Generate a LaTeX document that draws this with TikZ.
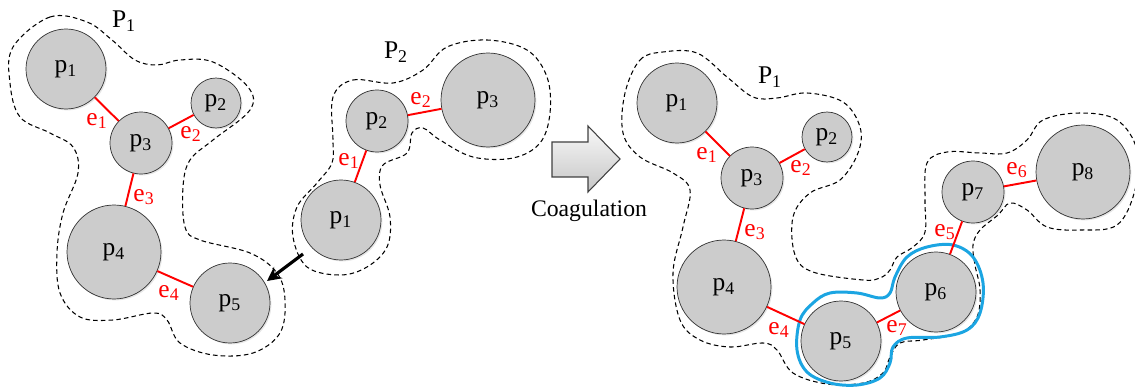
\documentclass[tikz,border=0pt]{standalone}
\usepackage{fontspec}
\setmainfont{Liberation Serif}
\usetikzlibrary{shadows,arrows.meta}
\definecolor{hilite}{RGB}{27,165,226}
\newcommand{\pfont}{\fontsize{14.5}{16}\selectfont}
\newcommand{\idx}[1]{\textsubscript{#1}}
\tikzset{
	part/.style={circle, draw=black!80, fill=gray!40, inner sep=0pt, font=\pfont,
		drop shadow={opacity=0.2, shadow xshift=0.8pt, shadow yshift=-0.8pt}},
	psmall/.style={part, minimum size=1.0cm},
	pmid/.style={part, minimum size=1.24cm},
	pbig/.style={part, minimum size=1.6cm},
	phuge/.style={part, minimum size=1.88cm},
	edge/.style={red, line width=1.1pt},
	elab/.style={red, font=\pfont, inner sep=0pt},
	glab/.style={font=\pfont, inner sep=0pt},
	outline/.style={black, line width=0.6pt, dash pattern=on 2.6pt off 1.8pt},
}
\begin{document}
\begin{tikzpicture}[x=0.02cm, y=-0.02cm]
	\useasboundingbox (0,0) rectangle (1135,388);
	\draw[outline] plot[smooth cycle, tension=0.6] coordinates {(13,47) (50,17) (87,22) (112,40) (135,60) (157,65) (180,60) (213,62) (248,87) (250,110) (213,140) (190,160) (183,187) (185,227) (200,240) (250,253) (277,273) (285,300) (280,333) (253,353) (213,355) (180,343) (167,320) (153,313) (113,320) (80,317) (60,293) (57,253) (63,213) (78,173) (73,147) (50,133) (20,117) (10,83)};
	\draw[outline] plot[smooth cycle, tension=0.6] coordinates {(333,97) (353,80) (393,83) (423,70) (447,47) (487,40) (527,50) (547,77) (550,113) (540,143) (513,158) (473,157) (440,140) (423,128) (412,133) (407,153) (383,165) (380,185) (390,217) (387,247) (367,267) (340,275) (307,267) (293,237) (297,207) (317,183) (332,163) (333,140)};
	\draw[outline] plot[smooth cycle, tension=0.6] coordinates {(625,93) (640,60) (663,52) (697,53) (727,77) (753,97) (777,98) (807,93) (843,102) (860,127) (858,153) (840,180) (810,193) (793,217) (795,255) (813,272) (863,280) (880,278) (890,270) (897,257) (913,247) (925,232) (925,200) (927,163) (947,152) (980,153) (1007,153) (1027,140) (1043,120) (1080,113) (1117,120) (1137,150) (1135,190) (1117,225) (1080,230) (1047,227) (1027,210) (1010,203) (998,215) (980,230) (973,245) (975,265) (980,290) (977,317) (960,333) (923,340) (900,343) (890,357) (883,373) (863,383) (827,384) (793,373) (777,350) (763,343) (730,347) (700,340) (680,320) (673,273) (683,227) (690,190) (673,173) (640,157) (623,133)};
	\draw[hilite, line width=1.7pt] plot[smooth cycle, tension=0.6] coordinates {(800,320) (813,303) (830,293) (857,293) (880,298) (890,293) (895,277) (907,257) (927,247) (953,245) (973,257) (983,283) (980,313) (967,330) (940,337) (907,338) (893,347) (890,363) (880,378) (857,385) (830,383) (807,372) (797,350)};
	\node[pbig] (l1) at (66,69) {p\idx{1}};
	\node[psmall] (l2) at (216,103) {p\idx{2}};
	\node[pmid] (l3) at (141,143) {p\idx{3}};
	\node[phuge] (l4) at (114,252) {p\idx{4}};
	\node[pbig] (l5) at (230,303) {p\idx{5}};
	\draw[edge] (l1) -- (l3);
	\draw[edge] (l2) -- (l3);
	\draw[edge] (l3) -- (l4);
	\draw[edge] (l4) -- (l5);
	\node[elab] (le1) at (97,121) {e\idx{1}};
	\node[elab] (le2) at (191,134) {e\idx{2}};
	\node[elab] (le3) at (144,197) {e\idx{3}};
	\node[elab] (le4) at (169,293) {e\idx{4}};
	\node[glab] (lgrp) at (124,21) {P\idx{1}};
	\node[pbig] (m1) at (341,220) {p\idx{1}};
	\node[pmid] (m2) at (377,121) {p\idx{2}};
	\node[phuge] (m3) at (488,100) {p\idx{3}};
	\draw[edge] (m1) -- (m2);
	\draw[edge] (m2) -- (m3);
	\node[elab] (me1) at (349,161) {e\idx{1}};
	\node[elab] (me2) at (421,100) {e\idx{2}};
	\node[glab] (mgrp) at (396,52) {P\idx{2}};
	\coordinate (mvfrom) at (303,254);
	\coordinate (mvto) at (267,281);
	\draw[-{Stealth[length=8pt, width=8pt]}, line width=1.8pt] (mvfrom) -- (mvto);
	\draw[black!75, line width=0.6pt, top color=gray!5, bottom color=gray!45] (552,142) -- (588,142) -- (588,126) -- (620,159) -- (588,192) -- (588,177) -- (552,177) -- cycle;
	\node[font=\fontsize{13.5}{16}\selectfont, inner sep=0pt] (coag) at (589,211) {Coagulation};
	\node[pbig] (r1) at (677,103) {p\idx{1}};
	\node[psmall] (r2) at (827,137) {p\idx{2}};
	\node[pmid] (r3) at (752,178) {p\idx{3}};
	\node[phuge] (r4) at (724,287) {p\idx{4}};
	\node[pbig] (r5) at (841,341) {p\idx{5}};
	\node[pbig] (r6) at (936,292) {p\idx{6}};
	\node[pmid] (r7) at (973,192) {p\idx{7}};
	\node[phuge] (r8) at (1083,172) {p\idx{8}};
	\draw[edge] (r1) -- (r3);
	\draw[edge] (r2) -- (r3);
	\draw[edge] (r3) -- (r4);
	\draw[edge] (r4) -- (r5);
	\draw[edge] (r6) -- (r7);
	\draw[edge] (r7) -- (r8);
	\draw[edge] (r5) -- (r6);
	\node[elab] (re1) at (707,155) {e\idx{1}};
	\node[elab] (re2) at (801,168) {e\idx{2}};
	\node[elab] (re3) at (755,232) {e\idx{3}};
	\node[elab] (re4) at (779,330) {e\idx{4}};
	\node[elab] (re5) at (945,232) {e\idx{5}};
	\node[elab] (re6) at (1017,170) {e\idx{6}};
	\node[elab] (re7) at (897,328) {e\idx{7}};
	\node[glab] (rgrp) at (770,77) {P\idx{1}};
\end{tikzpicture}
\end{document}
